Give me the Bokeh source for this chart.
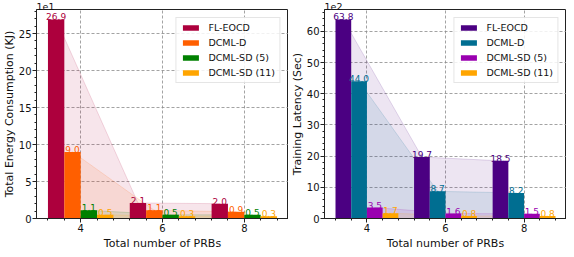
from bokeh.plotting import figure
from bokeh.models import FixedTicker, Range1d, Legend, LegendItem, Title
from bokeh.layouts import row
from bokeh.embed import file_html
from bokeh.resources import INLINE

# ---- data ----
prbs = [4, 6, 8]
series = ["FL-EOCD", "DCML-D", "DCML-SD (5)", "DCML-SD (11)"]
energy_fl = [26.9, 2.1, 2.0]
energy_d = [9.0, 1.1, 0.9]
energy_sd5 = [1.1, 0.5, 0.5]
energy_sd11 = [0.5, 0.3, 0.3]
latency_fl = [63.8, 19.7, 18.5]
latency_d = [44.0, 8.7, 8.2]
latency_sd5 = [3.5, 1.6, 1.5]
latency_sd11 = [1.7, 0.8, 0.8]

energy_colors = ["#AD003D", "#FF5F00", "#008000", "#FFA500"]
latency_colors = ["#4B0082", "#006E91", "#9A00B0", "#FFA500"]

FONT = "DejaVu Sans"
offsets = [-0.6, -0.2, 0.2, 0.6]
bar_w = 0.4


def make_title(text, size, align):
    return Title(text=text, align=align, text_font=FONT, text_font_size=size,
                 text_font_style="normal", text_color="#111111", standoff=0, offset=0)


def make_panel(vals_list, colors, ylabel, ymax, ymajor, yminor, offset_text,
               width, bl, br):
    p = figure(width=width, height=249, output_backend="svg", toolbar_location=None,
               x_range=Range1d(2.92, 9.08), y_range=Range1d(0, ymax),
               min_border_left=bl, min_border_right=br, min_border_top=8,
               min_border_bottom=26)
    p.title.text = offset_text
    p.title.align = "left"
    p.title.text_font = FONT
    p.title.text_font_size = "9.5px"
    p.title.text_font_style = "normal"
    p.title.text_color = "#111111"
    p.title.standoff = 0
    p.title.offset = 0
    p.outline_line_color = "#222222"
    p.outline_line_width = 1
    # shaded trend areas
    for vals, off, c in zip(vals_list, offsets, colors):
        xs = [x + off for x in prbs]
        p.varea(x=xs, y1=[0] * len(xs), y2=vals, fill_color=c, fill_alpha=0.1)
        p.line(x=xs, y=vals, line_color=c, line_alpha=0.15, line_width=1)
    items = []
    for vals, off, c, name in zip(vals_list, offsets, colors, series):
        xs = [x + off for x in prbs]
        r = p.vbar(x=xs, top=vals, width=bar_w, fill_color=c, line_color=None)
        items.append(LegendItem(label=name, renderers=[r]))
        p.text(x=xs, y=vals, text=[f"{v:.1f}" for v in vals], text_color=c,
               text_align="center", text_baseline="bottom",
               text_font_size="9px", text_font={"value": FONT}, y_offset=1)
    leg = Legend(items=items, location="top_right")
    leg.label_text_font = FONT
    leg.label_text_font_size = "9.5px"
    leg.label_text_color = "#111111"
    leg.glyph_width = 20
    leg.glyph_height = 7
    leg.label_height = 10
    leg.label_standoff = 8
    leg.spacing = 4
    leg.padding = 4
    leg.margin = 8
    leg.border_line_color = "#cccccc"
    leg.background_fill_alpha = 0.85
    p.add_layout(leg)

    # axes
    p.xaxis.ticker = FixedTicker(ticks=prbs,
                                 minor_ticks=[3.2, 3.6, 4.4, 4.8, 5.2, 5.6, 6.4, 6.8,
                                              7.2, 7.6, 8.4, 8.8])
    p.yaxis.ticker = FixedTicker(ticks=ymajor, minor_ticks=yminor)
    for ax in (p.xaxis[0], p.yaxis[0]):
        ax.major_label_text_font = FONT
        ax.major_label_text_font_size = "10px"
        ax.major_label_text_color = "#111111"
        ax.major_tick_out = 4
        ax.major_tick_in = 0
        ax.minor_tick_out = 2
        ax.minor_tick_in = 0
        ax.major_label_standoff = 1
        ax.axis_line_color = "#222222"
        ax.major_tick_line_color = "#222222"
        ax.minor_tick_line_color = "#222222"
    p.add_layout(make_title("Total number of PRBs", "11px", "center"), "below")
    p.add_layout(make_title(ylabel, "11px", "center"), "left")
    p.xgrid.grid_line_color = "#8c8c8c"
    p.ygrid.grid_line_color = "#8c8c8c"
    p.xgrid.grid_line_dash = "3 2"
    p.ygrid.grid_line_dash = "3 2"
    p.xgrid.grid_line_width = 0.8
    p.ygrid.grid_line_width = 0.8
    return p


left = make_panel([energy_fl, energy_d, energy_sd5, energy_sd11], energy_colors,
                  "Total Energy Consumption (KJ)", 26.9 * 1.05,
                  [0, 5, 10, 15, 20, 25], [i for i in range(0, 29) if i % 5],
                  "1e1", 288, 34, 0)
right = make_panel([latency_fl, latency_d, latency_sd5, latency_sd11], latency_colors,
                   "Training Latency (Sec)", 63.8 * 1.05,
                   [0, 10, 20, 30, 40, 50, 60], [i for i in range(0, 68, 2) if i % 10],
                   "1e2", 278, 34, 0)

layout = row(left, right)
open("out.html", "w").write(file_html(layout, INLINE))
